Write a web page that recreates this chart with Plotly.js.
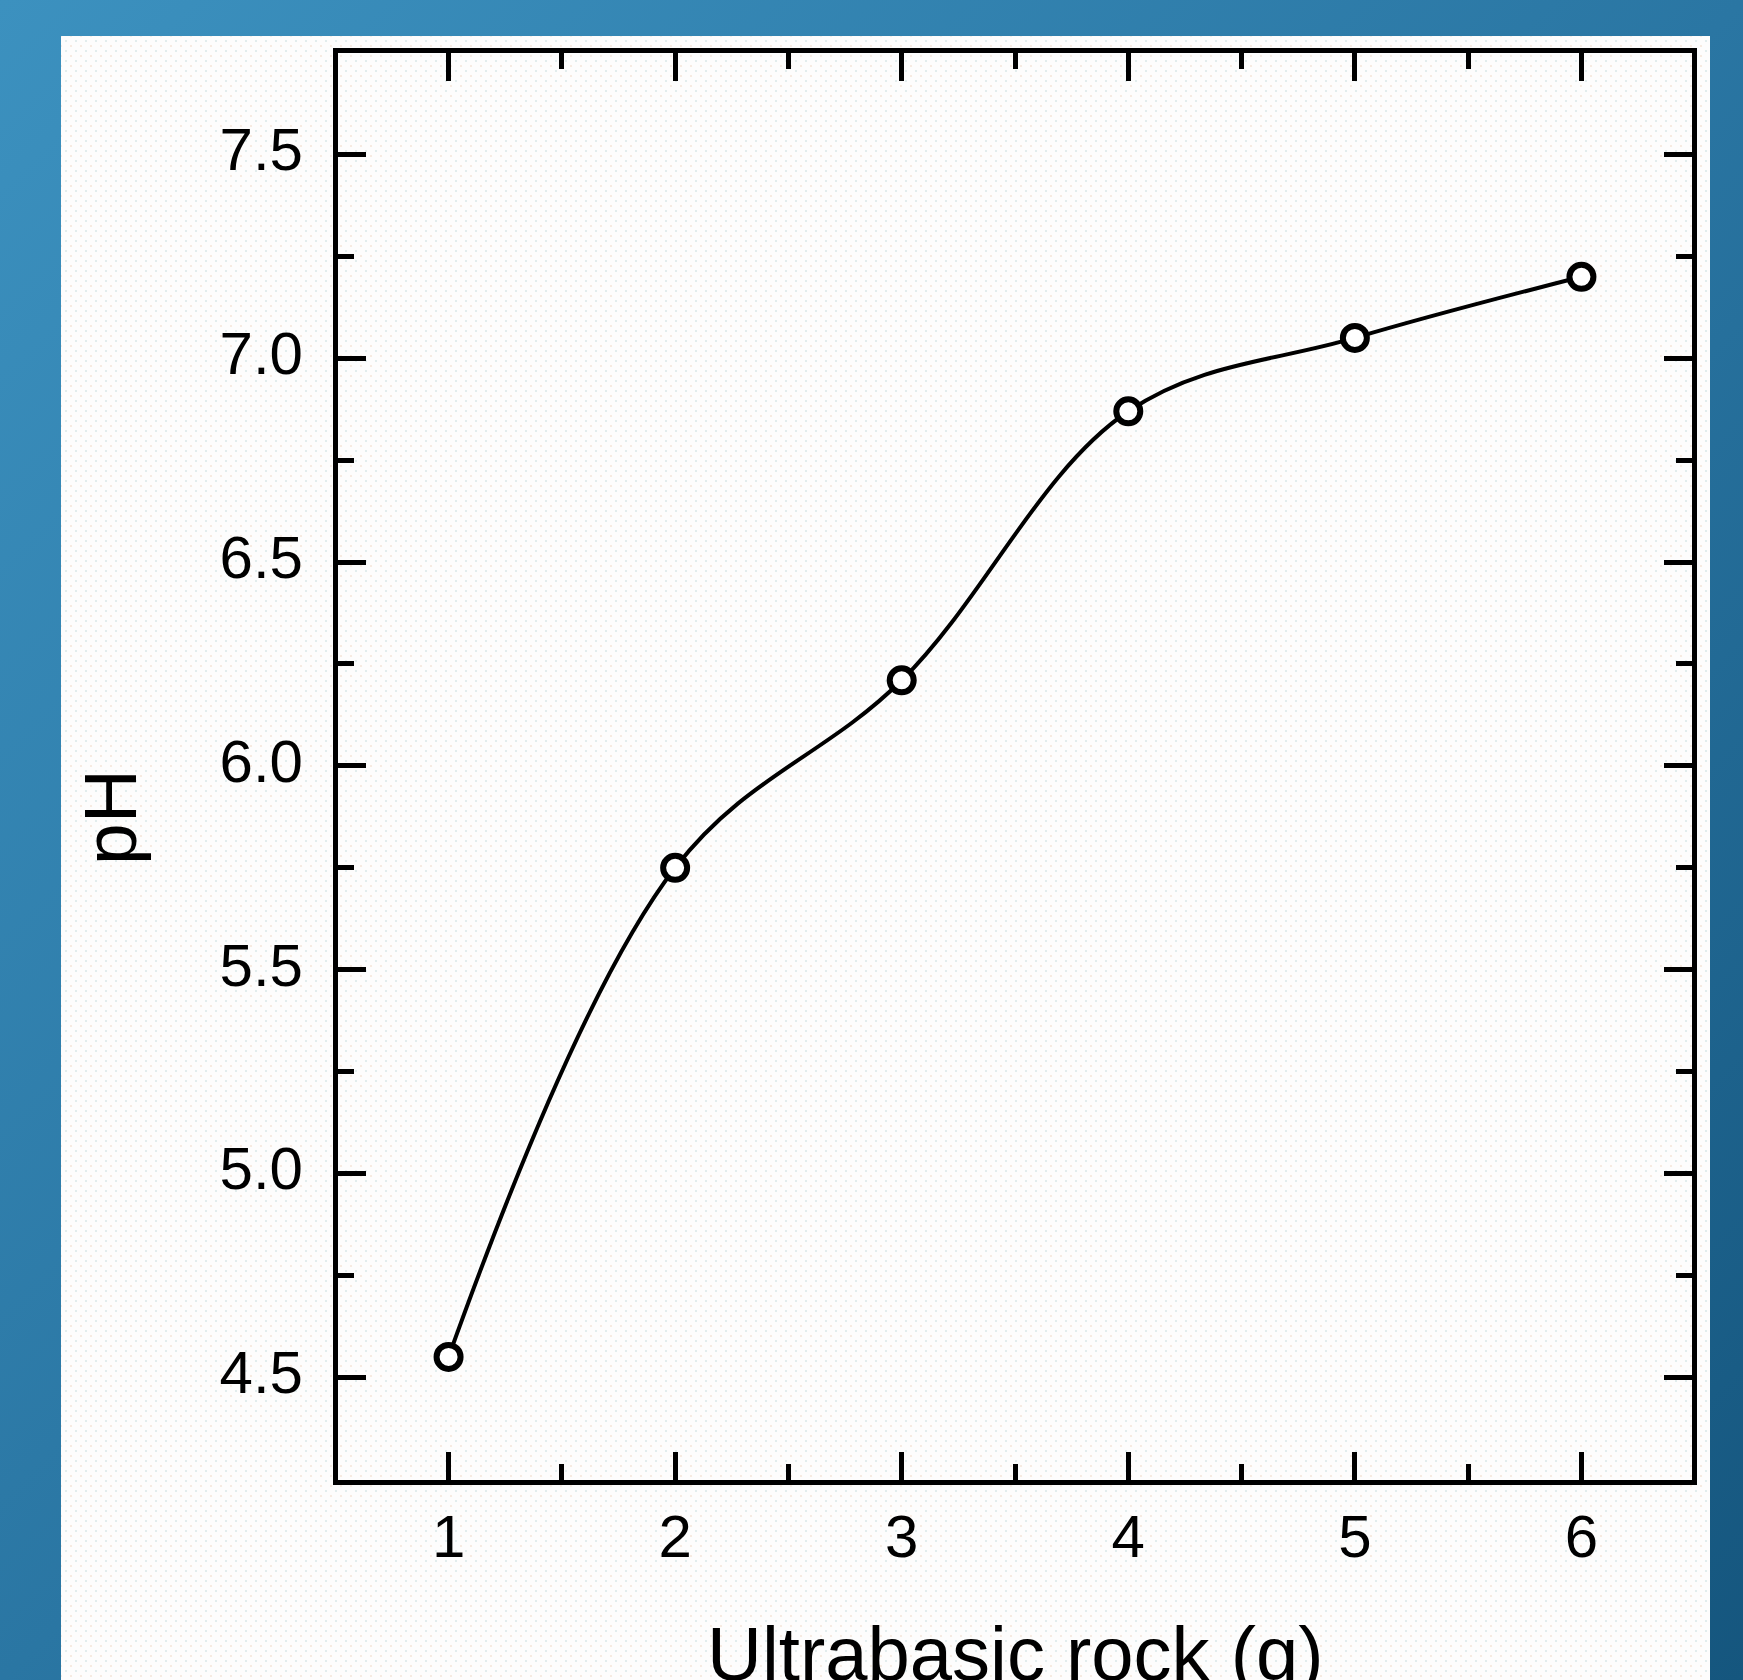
<!DOCTYPE html>
<html><head><meta charset="utf-8">
<script src="https://cdn.plot.ly/plotly-3.0.1.min.js"></script>
<style>
html,body{margin:0;padding:0;width:1743px;height:1680px;overflow:hidden;}
body{background:linear-gradient(to bottom right,#3c91bf 0%,#2a76a3 50%,#15567e 100%);}
#panel{position:absolute;left:61px;top:36px;width:1649px;height:1644px;background-color:#fdfdfd;
background-image:radial-gradient(circle,#e2eded 0.9px,transparent 1.3px),radial-gradient(circle,#f7ebe1 0.9px,transparent 1.3px);
background-size:10px 10px,10px 10px;background-position:0 0,5px 5px;}
#chart{position:absolute;left:0;top:0;width:1743px;height:1680px;}
</style></head>
<body><div id="panel"></div><div id="chart"></div>
<script>
const rockGrams = [1, 2, 3, 4, 5, 6];
const phValues = [4.55, 5.75, 6.21, 6.87, 7.05, 7.20];
const xTickVals = [1, 2, 3, 4, 5, 6];
const xTickText = ['1', '2', '3', '4', '5', '6'];
const yTickVals = [4.5, 5.0, 5.5, 6.0, 6.5, 7.0, 7.5];
const yTickText = ['4.5', '5.0', '5.5', '6.0', '6.5', '7.0', '7.5'];
const xTitle = 'Ultrabasic rock (g)';
const yTitle = 'pH';

const FONT = 'Liberation Sans, Arial, sans-serif';
const W = 1743, H = 1680;
const M = {l: 338, r: 51, t: 53, b: 200};
const plotW = W - M.l - M.r, plotH = H - M.t - M.b;
function px2x(p){ return (p - M.l) / plotW; }
function px2y(p){ return 1 - (p - M.t) / plotH; }

const trace = {
  x: rockGrams, y: phValues, type: 'scatter', mode: 'lines+markers',
  line: {color: '#000', width: 4, shape: 'spline', smoothing: 1.05},
  marker: {symbol: 'circle', size: 24, color: '#ffffff', line: {color: '#000', width: 6}},
  cliponaxis: false, showlegend: false, hoverinfo: 'x+y'
};

const axisCommon = {
  showline: true, linecolor: '#000', linewidth: 5, mirror: 'ticks',
  ticks: 'inside', ticklen: 28, tickwidth: 5, tickcolor: '#000',
  showgrid: false, zeroline: false,
  tickfont: {family: FONT, size: 60, color: '#000'}
};

const layout = {
  width: W, height: H, margin: M,
  paper_bgcolor: 'rgba(0,0,0,0)', plot_bgcolor: 'rgba(0,0,0,0)',
  xaxis: Object.assign({}, axisCommon, {
    range: [0.512, 6.488], tickmode: 'array', tickvals: xTickVals, ticktext: xTickText,
    minor: {ticks: 'inside', dtick: 0.5, tick0: 0.5, ticklen: 16, tickwidth: 5, tickcolor: '#000', showgrid: false},
    ticklabelstandoff: 0
  }),
  yaxis: Object.assign({}, axisCommon, {
    range: [4.248, 7.749], tickmode: 'array', tickvals: yTickVals, ticktext: yTickText,
    minor: {ticks: 'inside', dtick: 0.25, tick0: 4.25, ticklen: 16, tickwidth: 5, tickcolor: '#000', showgrid: false},
    ticklabelstandoff: 18, ticklabelshift: -5
  }),
  annotations: [
    {text: xTitle, xref: 'paper', yref: 'paper', x: px2x(1015), y: px2y(1609),
     xanchor: 'center', yanchor: 'top', showarrow: false,
     font: {family: FONT, size: 76, color: '#000'}},
    {text: yTitle, xref: 'paper', yref: 'paper', x: px2x(110), y: px2y(817),
     xanchor: 'center', yanchor: 'middle', textangle: -90, showarrow: false,
     font: {family: FONT, size: 75, color: '#000'}}
  ]
};

Plotly.newPlot('chart', [trace], layout, {staticPlot: true, displayModeBar: false});
</script>
</body></html>
